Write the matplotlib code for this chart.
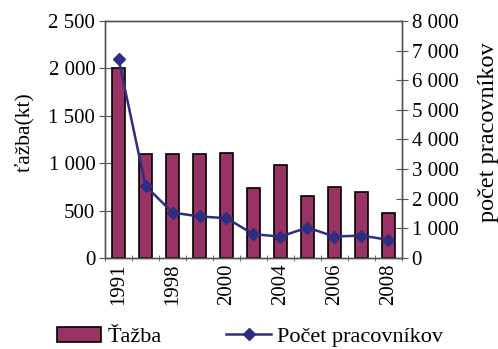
import matplotlib.pyplot as plt
import numpy as np

plt.rcParams['font.family'] = ['Liberation Serif', 'DejaVu Serif']
plt.rcParams['font.size'] = 15

years = ['1991', '1996', '1998', '1999', '2000', '2002', '2004', '2005', '2006', '2007', '2008']
tazba = [2000, 1095, 1095, 1095, 1110, 735, 985, 655, 750, 695, 475]
pracovnici = [6720, 2430, 1530, 1400, 1340, 800, 720, 1025, 720, 755, 610]

bar_color = '#993366'
line_color = '#2e2e80'

fig = plt.figure(figsize=(4.98, 3.49), dpi=100)
ax = fig.add_axes([0.211, 0.261, 0.596, 0.679])
x = np.arange(len(years))

bars = ax.bar(x, tazba, width=0.47, color=bar_color, edgecolor='black', linewidth=1.2, label='Ťažba', zorder=2)
ax.set_xlim(-0.5, len(years) - 0.5)
ax.set_ylim(0, 2500)
ax.set_yticks(range(0, 2501, 500))
ax.set_yticklabels(['0', '500', '1 000', '1 500', '2 000', '2 500'])
ax.set_ylabel('ťažba(kt)', fontsize=15.5)
ax.yaxis.set_label_coords(-0.24, 0.53)

# Excel-style category axis: ticks between bars, every other year labelled
ax.set_xticks(x[::2])
ax.set_xticklabels(years[::2], rotation=90)
ax.set_xticks(np.arange(-0.5, len(years)), minor=True)
ax.tick_params(axis='x', which='major', length=0, pad=4)
ax.tick_params(axis='x', which='minor', length=5, direction='inout', color='#555555')
ax.tick_params(axis='y', length=8, direction='inout', color='#555555', pad=3)

ax2 = ax.twinx()
line, = ax2.plot(x, pracovnici, color=line_color, marker='D', markersize=6, linewidth=1.8,
                 label='Počet pracovníkov', zorder=3)
ax2.set_ylim(0, 8000)
ax2.set_yticks(range(0, 8001, 1000))
ax2.set_yticklabels(['0'] + [f'{v} 000' for v in range(1, 9)])
ax2.set_ylabel('počet pracovníkov', fontsize=17.5)
ax2.yaxis.set_label_coords(1.258, 0.53)
ax2.tick_params(axis='y', length=8, direction='inout', color='#555555', pad=3)

for a in (ax, ax2):
    for s in a.spines.values():
        s.set_color('#555555')
        s.set_linewidth(1.0)

fig.legend(handles=[bars, line], loc='center', bbox_to_anchor=(0.502, 0.035), ncol=2,
           frameon=False, handlelength=2.0, columnspacing=2.9, handletextpad=0.3,
           fontsize=16)

fig.savefig('out.png', dpi=100)
